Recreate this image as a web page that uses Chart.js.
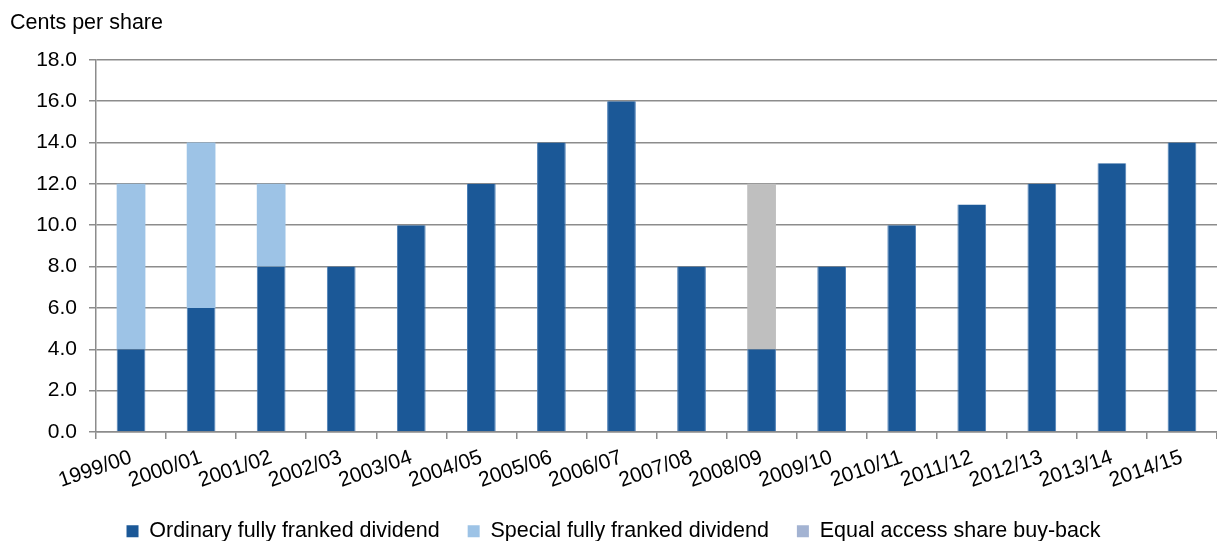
<!DOCTYPE html>
<html>
<head>
<meta charset="utf-8">
<script src="https://cdn.jsdelivr.net/npm/chart.js@4"></script>
<style>
  html, body { margin: 0; padding: 0; background: #fff; }
  #wrap { width: 1217px; height: 541px; }
</style>
</head>
<body>
<div id="wrap"><canvas id="chart"></canvas></div>
<script>
// financial years
const years = ["1999/00", "2000/01", "2001/02", "2002/03", "2003/04", "2004/05", "2005/06", "2006/07",
  "2007/08", "2008/09", "2009/10", "2010/11", "2011/12", "2012/13", "2013/14", "2014/15"]

// cents per share
const ordinary = [4, 6, 8, 8, 10, 12, 14, 16, 8, 4, 8, 10, 11, 12, 13, 14]
const special  = [8, 8, 4, 0, 0, 0, 0, 0, 0, 0, 0, 0, 0, 0, 0, 0]
const buyback  = [0, 0, 0, 0, 0, 0, 0, 0, 0, 8, 0, 0, 0, 0, 0, 0]

const yTicks = [0, 2, 4, 6, 8, 10, 12, 14, 16, 18]

Chart.defaults.font.family = "'Liberation Sans', Arial, sans-serif"
Chart.defaults.font.size = 21
Chart.defaults.color = "#000"

const axisGrey = "#8c8c8c"
// legend swatches (the buy-back swatch is bluer than its grey bar)
const legendColours = ["#1b5897", "#9dc3e6", "#a3b3d2"]

var ctx = document.getElementById("chart").getContext("2d")
new Chart(ctx, {
    type: "bar",
    data: {
        labels: years,
        datasets: [{
            label: "Ordinary fully franked dividend",
            data: ordinary,
            backgroundColor: "#1b5897",
            borderColor: "#4d7fb6",
            borderWidth: { left: 1, right: 1 },
            barPercentage: 0.41,
            categoryPercentage: 1
        },
        {
            label: "Special fully franked dividend",
            data: special,
            backgroundColor: "#9dc3e6",
            barPercentage: 0.41,
            categoryPercentage: 1
        },
        {
            label: "Equal access share buy-back",
            data: buyback,
            backgroundColor: "#bfbfbf",
            barPercentage: 0.41,
            categoryPercentage: 1
        }]
    },
    options: {
        responsive: true,
        maintainAspectRatio: false,
        animation: false,
        layout: { padding: { left: 10, right: 0, top: 2, bottom: -11 } },
        plugins: {
            title: {
                display: true,
                text: "Cents per share",
                align: "start",
                font: { size: 21.5, weight: "normal" },
                padding: { top: 8, bottom: 24 }
            },
            legend: {
                position: "bottom",
                labels: {
                    boxWidth: 12,
                    boxHeight: 12,
                    padding: 28,
                    font: { size: 21.5 },
                    generateLabels: function (chart) {
                        return chart.data.datasets.map((ds, i) => ({
                            text: ds.label,
                            fillStyle: legendColours[i],
                            strokeStyle: legendColours[i],
                            lineWidth: 0,
                            datasetIndex: i
                        }))
                    }
                }
            },
            tooltip: { enabled: false }
        },
        scales: {
            x: {
                stacked: true,
                afterFit: (axis) => { axis.height -= 7 },
                grid: {
                    drawOnChartArea: false,
                    color: axisGrey,
                    lineWidth: 1.5,
                    tickLength: 7
                },
                border: { color: axisGrey, width: 1.5 },
                ticks: { autoSkip: false, minRotation: 19, maxRotation: 19, padding: 6 }
            },
            y: {
                stacked: true,
                min: 0,
                max: 18,
                afterBuildTicks: (axis) => { axis.ticks = yTicks.map(v => ({ value: v })) },
                afterFit: (axis) => { axis.width = 86 },
                grid: {
                    color: axisGrey,
                    lineWidth: 1.5,
                    tickLength: 7
                },
                border: { color: axisGrey, width: 1.5 },
                ticks: {
                    padding: 12,
                    callback: (v) => v.toFixed(1)
                }
            }
        }
    }
})
</script>
</body>
</html>
